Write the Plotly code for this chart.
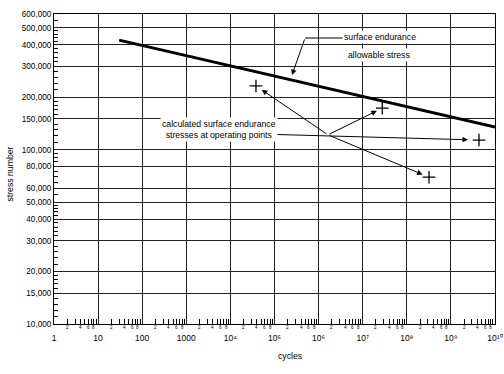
import numpy as np
import plotly.graph_objects as go

# ---- data ----
line_cycles = [30, 1e10]
line_stress = [425000, 135000]

pt_cycles = [3.8e4, 2.78e7, 4.34e9, 3.19e8]
pt_stress = [232000, 173000, 113500, 69500]

x_tickvals = [1, 10, 100, 1000, 1e4, 1e5, 1e6, 1e7, 1e8, 1e9, 1e10]
x_ticktext = ["1", "10", "100", "1000", "10⁴", "10⁵", "10⁶", "10⁷", "10⁸", "10⁹", "10¹⁰"]
y_tickvals = [10000, 15000, 20000, 30000, 40000, 50000, 60000, 80000, 100000,
              150000, 200000, 300000, 400000, 500000, 600000]
y_ticktext = [f"{v:,}" for v in y_tickvals]
y_minor = [11000, 12000, 13000, 14000, 16000, 17000, 18000, 19000, 22000, 24000, 26000, 28000,
           32000, 34000, 36000, 38000, 42000, 44000, 46000, 48000, 55000, 65000, 70000, 75000,
           85000, 90000, 95000, 110000, 120000, 130000, 140000, 160000, 170000, 180000, 190000,
           220000, 240000, 260000, 280000, 320000, 340000, 360000, 380000, 420000, 440000,
           460000, 480000, 550000]
x_minor = [m * 10.0 ** d for d in range(10) for m in range(2, 10)]
x_minor_labels = [2, 4, 6, 8]

# annotation anchor points (data coordinates)
junction = (10 ** 6.213, 10 ** 5.085)
calc_tail = (10 ** 4.898, 10 ** 5.088)
calc_text = (10 ** 3.741, 10 ** 5.1135)
surf_text = (10 ** 7.40, 10 ** 5.647)
allow_text = (10 ** 7.36, 10 ** 5.543)
surf_leader = [(10 ** 6.553, 437000), (10 ** 5.692, 437000)]
surf_tip = (10 ** 5.397, 268000)

FONT = "Liberation Sans, Arial, sans-serif"

fig = go.Figure()

fig.add_trace(go.Scatter(x=line_cycles, y=line_stress, mode="lines",
                         line=dict(color="black", width=3), showlegend=False,
                         hoverinfo="skip"))
fig.add_trace(go.Scatter(x=[p[0] for p in surf_leader], y=[p[1] for p in surf_leader],
                         mode="lines", line=dict(color="black", width=1),
                         showlegend=False, hoverinfo="skip"))
fig.add_trace(go.Scatter(x=pt_cycles, y=pt_stress, mode="markers",
                         marker=dict(symbol="cross-thin", size=9,
                                     line=dict(color="black", width=1.3)),
                         showlegend=False))

L = np.log10
ann = []


def arrow(tail, tip, standoff):
    ann.append(dict(x=L(tip[0]), y=L(tip[1]), ax=L(tail[0]), ay=L(tail[1]),
                    xref="x", yref="y", axref="x", ayref="y", text="",
                    showarrow=True, arrowhead=2, arrowsize=1.1, arrowwidth=1,
                    arrowcolor="black", standoff=standoff))


arrow(junction, (pt_cycles[0], pt_stress[0]), 7)
arrow(junction, (pt_cycles[1], pt_stress[1]), 6)
arrow(junction, (pt_cycles[3], pt_stress[3]), 7)
arrow(calc_tail, (pt_cycles[2], pt_stress[2]), 11)
arrow(surf_leader[1], surf_tip, 0)

ann.append(dict(x=L(calc_text[0]), y=L(calc_text[1]), xref="x", yref="y",
                text="calculated surface endurance<br>stresses at operating points",
                showarrow=False, font=dict(size=8.7, color="black", family=FONT),
                align="center", bgcolor="white"))
ann.append(dict(x=L(surf_text[0]), y=L(surf_text[1]), xref="x", yref="y",
                text="surface endurance", showarrow=False, bgcolor="white",
                font=dict(size=8.7, color="black", family=FONT)))
ann.append(dict(x=L(allow_text[0]), y=L(allow_text[1]), xref="x", yref="y",
                text="allowable stress", showarrow=False, bgcolor="white",
                font=dict(size=8.7, color="black", family=FONT)))

for d in range(10):
    for m in x_minor_labels:
        ann.append(dict(x=L(m * 10.0 ** d), y=0, xref="x", yref="paper",
                        yanchor="top", yshift=0, borderpad=0, text=str(m),
                        showarrow=False,
                        font=dict(size=4.5, color="black", family=FONT)))

ann.append(dict(x=0.537, y=-0.08, xref="paper", yref="paper", yanchor="top",
                xanchor="center", text="cycles", showarrow=False,
                font=dict(size=8.7, color="black", family=FONT)))
ann.append(dict(x=-0.1, y=0.485, xref="paper", yref="paper", textangle=-90,
                xanchor="center", yanchor="middle", text="stress number", showarrow=False,
                font=dict(size=8.7, color="black", family=FONT)))

fig.update_layout(
    width=504, height=374, autosize=False,
    margin=dict(l=54, r=9, t=14, b=50),
    paper_bgcolor="white", plot_bgcolor="white",
    font=dict(family=FONT, size=8.7, color="black"),
    annotations=ann,
    showlegend=False,
)
fig.update_xaxes(type="log", range=[0, 10], tickmode="array",
                 tickvals=x_tickvals, ticktext=x_ticktext,
                 tickfont=dict(size=8.5),
                 showgrid=True, gridcolor="#222", gridwidth=1,
                 showline=True, linecolor="black", linewidth=1, mirror=True,
                 ticks="", ticklabelstandoff=6, zeroline=False, automargin=False,
                 minor=dict(tickmode="array", tickvals=x_minor, ticks="inside",
                            ticklen=5, tickcolor="black", tickwidth=1, showgrid=False))
fig.update_yaxes(type="log", range=[4, np.log10(600000)], tickmode="array",
                 tickvals=y_tickvals, ticktext=y_ticktext,
                 tickfont=dict(size=8.2),
                 showgrid=True, gridcolor="#222", gridwidth=1,
                 showline=True, linecolor="black", linewidth=1, mirror=True,
                 ticks="", zeroline=False, automargin=False,
                 minor=dict(tickmode="array", tickvals=y_minor, ticks="inside",
                            ticklen=4, tickcolor="black", tickwidth=1, showgrid=False))

fig.write_html("out.html", config={"displayModeBar": False},
               post_script="document.body.style.margin='0';document.body.style.overflow='hidden';")
